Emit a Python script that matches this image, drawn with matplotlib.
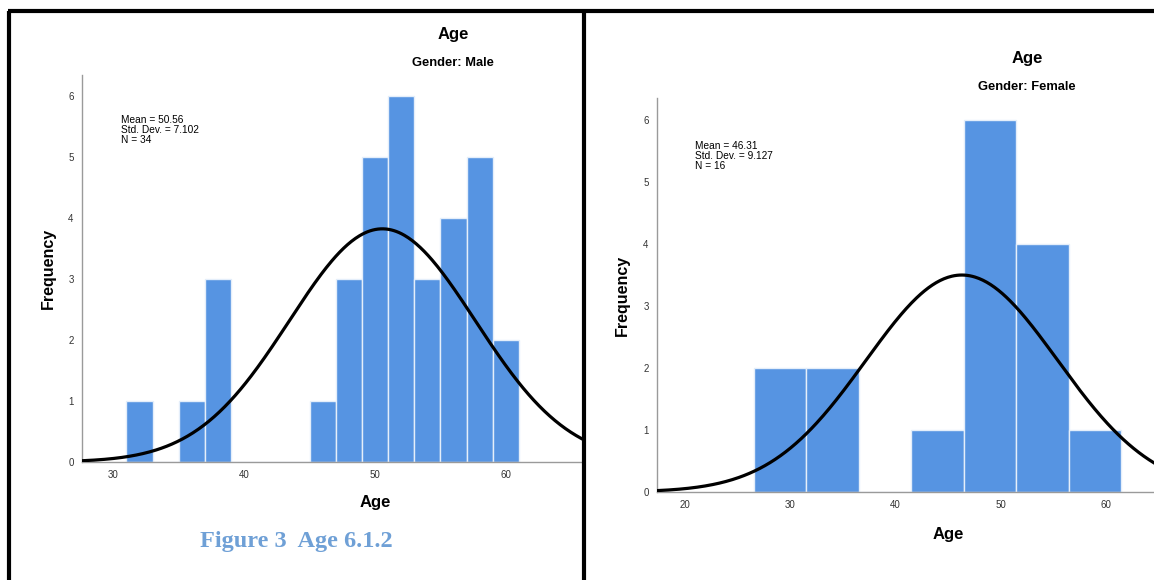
import matplotlib.pyplot as plt
from matplotlib.lines import Line2D
import numpy as np

plt.rcParams['font.family'] = ['Liberation Sans', 'DejaVu Sans']

W, H = 1154, 580

# male histogram (2-year bins)
male_edges = [31, 33, 35, 37, 39, 41, 43, 45, 47, 49, 51, 53, 55, 57, 59, 61]
male_counts = [1, 0, 1, 3, 0, 0, 0, 1, 3, 5, 6, 3, 4, 5, 2]
male_mean, male_sd, male_n = 50.56, 7.102, 34

# female histogram (5-year bins)
female_edges = [26.5, 31.5, 36.5, 41.5, 46.5, 51.5, 56.5, 61.5]
female_counts = [2, 2, 0, 1, 6, 4, 1]
female_mean, female_sd, female_n = 46.31, 9.127, 16

bar_color = "#5694e2"
axis_color = "#9a9a9a"


def px(x0, y0, x1, y1):
    # pixel box (top-left origin) -> figure fraction rect
    return [x0 / W, 1 - y1 / H, (x1 - x0) / W, (y1 - y0) / H]


def panel(fig, rect, edges, counts, mean, sd, n, xlim, xticks, ylim, ty):
    ax = fig.add_axes(rect)
    edges = np.array(edges)
    ax.bar(edges[:-1], counts, width=np.diff(edges), align="edge",
           color=bar_color, edgecolor="#e4eefa", linewidth=1.0, zorder=2)
    bw = edges[1] - edges[0]
    xs = np.linspace(xlim[0], xlim[1] + 2, 400)
    ys = n * bw / (sd * np.sqrt(2 * np.pi)) * np.exp(-0.5 * ((xs - mean) / sd) ** 2)
    ax.plot(xs, ys, color="black", lw=2.3, zorder=3)
    ax.set_xlim(*xlim)
    ax.set_ylim(*ylim)
    ax.set_xticks(xticks)
    ax.set_yticks(range(7))
    for s in ["top", "right"]:
        ax.spines[s].set_visible(False)
    for s in ["left", "bottom"]:
        ax.spines[s].set_color(axis_color)
        ax.spines[s].set_linewidth(1.0)
    ax.tick_params(length=0, labelsize=7, colors="#333333", pad=6)
    ax.text(0.077, ty, f"Mean = {mean:.2f}\nStd. Dev. = {sd:.3f}\nN = {n}",
            transform=ax.transAxes, fontsize=7.3, va="top", ha="left",
            linespacing=1.02)
    return ax


fig = plt.figure(figsize=(W / 100, H / 100), dpi=100)

ax1 = panel(fig, px(82, 75, 583, 462), male_edges, male_counts,
            male_mean, male_sd, male_n, (27.6, 65.9), [30, 40, 50, 60], (0, 6.34), 0.897)
ax2 = panel(fig, px(657, 98, 1154, 492), female_edges, female_counts,
            female_mean, female_sd, female_n, (17.3, 64.6), [20, 30, 40, 50, 60], (0, 6.35), 0.892)

# titles and axis labels
fig.text(453 / W, 1 - 35 / H, "Age", ha="center", va="center", fontsize=12, fontweight="bold")
fig.text(453 / W, 1 - 63 / H, "Gender: Male", ha="center", va="center", fontsize=9.3, fontweight="bold")
fig.text(1027 / W, 1 - 58 / H, "Age", ha="center", va="center", fontsize=12, fontweight="bold")
fig.text(1027 / W, 1 - 87 / H, "Gender: Female", ha="center", va="center", fontsize=9.3, fontweight="bold")

fig.text(48 / W, 1 - 268 / H, "Frequency", rotation=90, ha="center", va="center", fontsize=11.5, fontweight="bold")
fig.text(622 / W, 1 - 295 / H, "Frequency", rotation=90, ha="center", va="center", fontsize=11.5, fontweight="bold")
fig.text(375 / W, 1 - 503 / H, "Age", ha="center", va="center", fontsize=12, fontweight="bold")
fig.text(948 / W, 1 - 534 / H, "Age", ha="center", va="center", fontsize=12, fontweight="bold")

fig.text(296 / W, 1 - 541 / H, "Figure 3  Age 6.1.2", ha="center", va="center",
         fontsize=17.5, fontweight="bold", color="#6fa0d6", family=["Liberation Serif", "DejaVu Serif"])

# document frame lines
lw = 3.0
fig.add_artist(Line2D([9 / W, 9 / W], [0, 1 - 10.5 / H], color="black", lw=lw,
                      solid_capstyle="butt", transform=fig.transFigure))
fig.add_artist(Line2D([7.5 / W, 1], [1 - 10.5 / H, 1 - 10.5 / H], color="black", lw=lw,
                      solid_capstyle="butt", transform=fig.transFigure))
fig.add_artist(Line2D([583.5 / W, 583.5 / W], [0, 1 - 10.5 / H], color="black", lw=lw,
                      solid_capstyle="butt", transform=fig.transFigure))

fig.savefig("out.png", dpi=100)
